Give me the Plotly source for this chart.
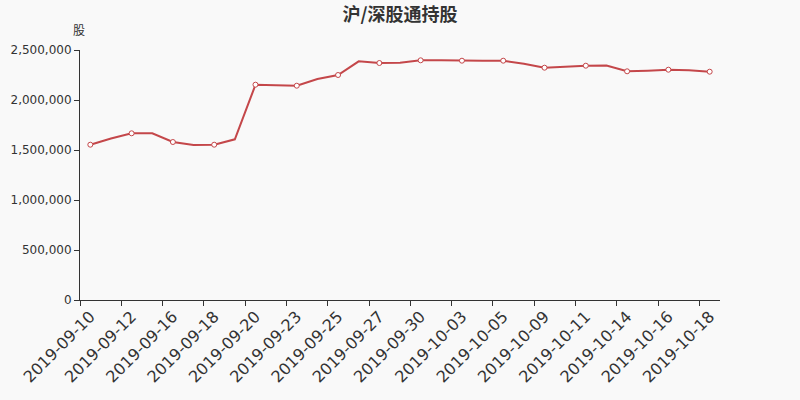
import plotly.graph_objects as go

dates = ["2019-09-10", "2019-09-11", "2019-09-12", "2019-09-13", "2019-09-16", "2019-09-17",
         "2019-09-18", "2019-09-19", "2019-09-20", "2019-09-22", "2019-09-23", "2019-09-24",
         "2019-09-25", "2019-09-26", "2019-09-27", "2019-09-29", "2019-09-30", "2019-10-02",
         "2019-10-03", "2019-10-04", "2019-10-05", "2019-10-08", "2019-10-09", "2019-10-10",
         "2019-10-11", "2019-10-13", "2019-10-14", "2019-10-15", "2019-10-16", "2019-10-17",
         "2019-10-18"]
holdings = [1553000, 1615000, 1667000, 1667000, 1580000, 1550000,
            1553000, 1607000, 2153000, 2150000, 2143000, 2210000,
            2250000, 2387000, 2370000, 2373000, 2397000, 2397000,
            2393000, 2393000, 2393000, 2362000, 2323000, 2333000,
            2343000, 2345000, 2287000, 2293000, 2303000, 2297000,
            2283000]
y_ticks = [0, 500000, 1000000, 1500000, 2000000, 2500000]

idx = list(range(len(dates)))
even = idx[::2]

fig = go.Figure()
fig.add_trace(go.Scatter(
    x=idx, y=holdings, mode="lines",
    line=dict(color="#c4474a", width=2),
    hoverinfo="skip", showlegend=False))
fig.add_trace(go.Scatter(
    x=even, y=[holdings[i] for i in even], mode="markers",
    marker=dict(color="white", size=5, line=dict(color="#c4474a", width=1)),
    showlegend=False))

fig.update_layout(
    width=800, height=400,
    paper_bgcolor="#f9f9f9", plot_bgcolor="#f9f9f9",
    margin=dict(l=80, r=80, t=50, b=100),
    title=dict(text="<b>沪/深股通持股</b>", x=0.5, xanchor="center", y=0.963, yanchor="middle",
               font=dict(family="Noto Sans CJK SC", size=18, color="#333333")),
    font=dict(family="DejaVu Sans", color="#333333"),
    xaxis=dict(
        range=[-0.5, len(dates) - 0.5], showgrid=False, zeroline=False, automargin=False,
        showline=True, linecolor="#333333", linewidth=1,
        tickmode="array", tickvals=even, ticktext=[dates[i] for i in even],
        ticks="", tickangle=-45, tickfont=dict(size=16, color="#333333"),
        minor=dict(ticks="outside", tickmode="linear", tick0=-0.5, dtick=2,
                   ticklen=5, tickcolor="#333333", showgrid=False),
    ),
    yaxis=dict(
        range=[0, 2500000], showgrid=False, zeroline=False, automargin=False,
        showline=True, linecolor="#333333", linewidth=1,
        tickmode="array", tickvals=y_ticks,
        ticktext=[f"{v:,}" for v in y_ticks],
        ticks="outside", ticklen=5, tickcolor="#333333",
        tickfont=dict(size=12, color="#333333"),
    ),
    annotations=[dict(text="股", xref="paper", yref="paper", x=0, y=1, xshift=-1, yshift=10,
                      showarrow=False, xanchor="center", yanchor="bottom",
                      font=dict(family="Noto Sans CJK SC", size=12, color="#333333"))],
)

fig.write_html("out.html", config={"displayModeBar": False},
               post_script="document.body.style.margin='0';")
